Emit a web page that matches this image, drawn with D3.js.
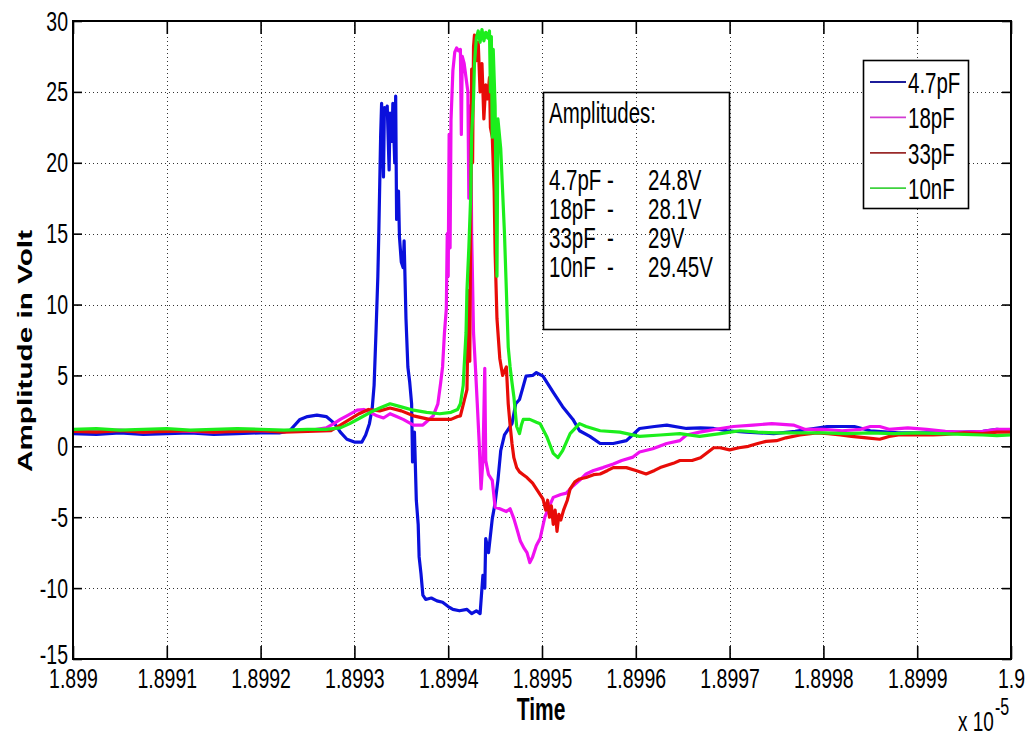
<!DOCTYPE html>
<html><head><meta charset="utf-8">
<script src="https://cdn.jsdelivr.net/npm/d3@7"></script>
<style>body{margin:0;background:#fff}svg{display:block;font-family:"Liberation Sans",Arial,Helvetica,sans-serif}</style>
</head><body><svg id="c" width="1030" height="736"></svg>
<script>
// ---- data ----
// time offsets in units of 1e-4 (x 10^-5 s) from 1.899, i.e. 0..10
const timeTicks = [0,1,2,3,4,5,6,7,8,9,10];
const timeTickLabels = ["1.899","1.8991","1.8992","1.8993","1.8994","1.8995","1.8996","1.8997","1.8998","1.8999","1.9"];
const voltTicks = [-15,-10,-5,0,5,10,15,20,25,30];
const seriesNames = ["4.7pF","18pF","33pF","10nF"];
const seriesColors = ["#0a10dc","#f010f0","#e80c08","#1cee1c"];
const legendColors = ["#1c1c9a","#d23cd2","#9a2a2a","#3ed23e"];
const amplitudeNames = ["4.7pF -","18pF\u00A0\u00A0-","33pF\u00A0\u00A0-","10nF\u00A0\u00A0-"];
const amplitudeValues = ["24.8V","28.1V","29V","29.45V"];

const cap4p7pF = [[0,0.9],[0.25,0.85],[0.5,0.95],[0.75,0.85],[1,0.9],[1.25,0.95],[1.5,0.85],[1.75,0.9],[2,0.95],[2.2,0.95],[2.31,1.1],[2.42,1.9],[2.5,2.1],[2.6,2.2],[2.7,2.1],[2.79,1.6],[2.85,1.0],[2.92,0.5],[3.0,0.3],[3.08,0.3],[3.12,0.8],[3.16,1.6],[3.19,2.7],[3.21,4.3],[3.23,8.0],[3.25,12.0],[3.26,15.0],[3.28,22.0],[3.29,24.2],[3.31,19.0],[3.32,23.9],[3.34,23.5],[3.35,24.0],[3.37,19.5],[3.38,23.5],[3.40,21.5],[3.41,24.2],[3.43,20.0],[3.44,24.7],[3.45,16.0],[3.47,18.0],[3.48,14.8],[3.50,13.0],[3.52,12.6],[3.53,14.5],[3.55,9.0],[3.57,5.6],[3.59,4.5],[3.61,3.0],[3.62,-1.1],[3.64,1.0],[3.66,-3.8],[3.68,-5.5],[3.69,-7.8],[3.71,-9.0],[3.73,-10.5],[3.76,-10.8],[3.82,-10.7],[3.88,-10.9],[3.94,-11.0],[4.0,-11.3],[4.05,-11.5],[4.12,-11.6],[4.20,-11.5],[4.25,-11.8],[4.30,-11.6],[4.34,-11.8],[4.37,-9.1],[4.39,-10.0],[4.40,-6.5],[4.43,-7.5],[4.47,-5.1],[4.50,-4.0],[4.53,-2.4],[4.56,-0.3],[4.60,0.8],[4.65,1.3],[4.68,1.6],[4.72,3.0],[4.76,3.3],[4.79,4.0],[4.83,4.95],[4.90,5.0],[4.94,5.2],[5.01,4.95],[5.12,3.8],[5.22,2.8],[5.33,1.9],[5.40,1.1],[5.51,0.7],[5.62,0.2],[5.76,0.2],[5.90,0.4],[6.04,1.26],[6.2,1.4],[6.33,1.5],[6.54,1.26],[6.69,1.3],[6.83,1.26],[6.97,1.1],[7.18,1.0],[7.47,0.9],[7.7,1.05],[8.04,1.4],[8.33,1.4],[8.5,1.1],[8.8,0.95],[9.2,0.95],[9.5,1.0],[9.7,1.05],[9.85,1.2],[10,1.1]];

const cap18pF = [[0,1.1],[0.25,1.05],[0.5,1.15],[0.75,1.0],[1,1.1],[1.25,1.05],[1.5,1.0],[1.75,1.1],[2,1.1],[2.25,1.05],[2.5,1.1],[2.7,1.3],[2.78,1.6],[2.85,1.9],[2.92,2.15],[3.03,2.55],[3.1,2.6],[3.17,2.4],[3.24,2.15],[3.31,2.0],[3.38,2.3],[3.45,2.1],[3.52,1.9],[3.63,1.5],[3.73,1.5],[3.84,2.15],[3.89,3.0],[3.92,4.5],[3.94,5.6],[3.96,8.0],[3.98,9.7],[3.99,15],[4.00,12],[4.01,22],[4.02,14],[4.03,23],[4.05,26.5],[4.07,27.8],[4.09,28.1],[4.11,27.9],[4.13,28.0],[4.14,22],[4.15,27.5],[4.17,27.0],[4.19,26.0],[4.21,25.0],[4.22,17.5],[4.23,24.0],[4.24,23.0],[4.25,15.0],[4.27,8.0],[4.29,5.6],[4.31,3.0],[4.33,0.3],[4.35,-3.0],[4.37,-1.0],[4.39,5.5],[4.40,-1.0],[4.43,-2.0],[4.47,-2.4],[4.50,-4.3],[4.55,-4.4],[4.62,-4.6],[4.66,-4.4],[4.70,-5.1],[4.74,-6.0],[4.77,-6.7],[4.81,-7.2],[4.84,-7.5],[4.87,-8.2],[4.90,-7.8],[4.94,-7.0],[4.98,-6.5],[5.03,-5.0],[5.08,-4.2],[5.12,-3.6],[5.2,-3.4],[5.26,-3.3],[5.33,-2.8],[5.40,-2.4],[5.47,-1.95],[5.55,-1.7],[5.65,-1.5],[5.76,-1.24],[5.85,-1.0],[5.97,-0.76],[6.04,-0.4],[6.18,-0.17],[6.33,0.2],[6.47,0.4],[6.54,0.8],[6.68,1.0],[6.85,1.2],[7.04,1.4],[7.25,1.5],[7.45,1.6],[7.68,1.5],[7.8,1.2],[8.0,1.2],[8.2,1.1],[8.4,1.2],[8.5,1.4],[8.6,1.4],[8.7,1.2],[8.9,1.3],[9.1,1.2],[9.3,1.05],[9.5,1.0],[9.7,1.05],[9.85,1.2],[10,1.2]];

const cap33pF = [[0,1.05],[0.25,1.0],[0.5,1.1],[0.75,1.0],[1,1.05],[1.25,1.1],[1.5,1.0],[1.75,1.05],[2,1.1],[2.25,1.0],[2.5,1.05],[2.75,1.1],[2.85,1.5],[2.95,1.9],[3.05,2.3],[3.15,2.6],[3.27,2.5],[3.38,2.7],[3.5,2.5],[3.63,2.15],[3.8,1.9],[3.91,1.9],[4.03,1.9],[4.10,2.1],[4.13,2.15],[4.17,3.2],[4.20,4.0],[4.21,8.0],[4.22,11.0],[4.23,6.0],[4.24,16.4],[4.25,26.6],[4.26,20],[4.27,28.2],[4.28,29.0],[4.30,27.2],[4.32,28.5],[4.34,25.0],[4.36,27.0],[4.38,23.1],[4.40,25.5],[4.42,24.5],[4.44,26.0],[4.45,22.5],[4.47,21.8],[4.49,18],[4.50,13.7],[4.52,9.0],[4.55,6.2],[4.58,5.0],[4.62,5.6],[4.64,3.0],[4.66,1.5],[4.68,0.2],[4.70,-0.8],[4.73,-1.5],[4.76,-1.8],[4.80,-2.0],[4.84,-2.2],[4.87,-2.4],[4.90,-2.6],[4.94,-3.0],[4.98,-3.4],[5.01,-3.7],[5.04,-4.5],[5.06,-3.8],[5.08,-5.0],[5.10,-4.2],[5.12,-5.5],[5.14,-4.5],[5.16,-6.0],[5.18,-4.8],[5.2,-5.2],[5.23,-4.5],[5.27,-3.8],[5.3,-3.0],[5.35,-2.5],[5.4,-2.3],[5.47,-2.2],[5.55,-2.0],[5.62,-1.95],[5.7,-1.7],[5.76,-1.5],[5.9,-1.5],[6.0,-1.7],[6.11,-1.95],[6.2,-1.7],[6.26,-1.5],[6.4,-1.2],[6.47,-1.0],[6.6,-1.0],[6.69,-0.8],[6.75,-0.5],[6.83,-0.1],[6.9,-0.1],[7.0,-0.25],[7.1,-0.1],[7.2,0],[7.3,0.2],[7.39,0.35],[7.5,0.4],[7.6,0.6],[7.75,0.8],[7.93,0.95],[8.05,0.9],[8.18,0.8],[8.3,0.7],[8.46,0.6],[8.6,0.5],[8.7,0.7],[8.8,0.8],[9.0,0.8],[9.17,0.8],[9.3,0.85],[9.5,0.95],[9.7,0.9],[9.85,1.0],[10,1.0]];

const cap10nF = [[0,1.2],[0.25,1.25],[0.5,1.15],[0.75,1.2],[1,1.25],[1.25,1.15],[1.5,1.2],[1.75,1.25],[2,1.2],[2.25,1.15],[2.5,1.2],[2.7,1.2],[2.85,1.3],[2.95,1.6],[3.06,2.0],[3.17,2.4],[3.27,2.7],[3.38,3.0],[3.49,2.8],[3.63,2.55],[3.77,2.4],[3.91,2.3],[4.03,2.4],[4.10,2.6],[4.13,3.0],[4.16,4.3],[4.17,5.6],[4.19,8],[4.20,11.0],[4.22,14],[4.24,17.7],[4.25,22],[4.27,24.5],[4.28,27],[4.30,28.8],[4.32,29.3],[4.34,28.5],[4.36,29.4],[4.38,28.6],[4.40,29.2],[4.42,28.8],[4.44,29.3],[4.45,25],[4.46,28.9],[4.47,21.8],[4.48,28.0],[4.50,24.0],[4.52,12],[4.53,23.1],[4.56,21],[4.58,18],[4.60,15],[4.62,11.0],[4.64,7],[4.66,5.6],[4.68,4.5],[4.70,3.5],[4.73,1.4],[4.76,0.9],[4.78,1.5],[4.80,1.9],[4.87,1.9],[4.94,1.7],[4.98,1.6],[5.05,0.7],[5.12,-0.5],[5.17,-0.8],[5.22,-0.3],[5.3,0.9],[5.4,1.6],[5.47,1.4],[5.62,1.1],[5.83,1.0],[6.04,0.7],[6.26,0.8],[6.47,0.9],[6.68,0.7],[6.9,0.9],[7.11,1.1],[7.3,1.0],[7.5,0.95],[7.75,0.95],[8.0,0.95],[8.25,0.9],[8.5,0.95],[8.75,0.9],[9.0,0.95],[9.25,0.9],[9.5,0.85],[9.7,0.8],[9.85,0.75],[10,0.8]];

const allSeries = [cap4p7pF, cap18pF, cap33pF, cap10nF];

// ---- layout ----
const M = {l:73, r:1011, t:21, b:659};
const ST = 1.45; // vertical text stretch of the original figure
const x = d3.scaleLinear().domain([0,10]).range([M.l, M.r]);
const y = d3.scaleLinear().domain([-15,30]).range([M.b, M.t]);
const svg = d3.select("#c");

// grid
const grid = svg.append("g").attr("stroke","#333").attr("stroke-width",1).attr("stroke-dasharray","1,3");
grid.selectAll("line.v").data(timeTicks.slice(1,-1)).join("line").attr("class","v")
  .attr("x1",d=>Math.round(x(d))+0.5).attr("x2",d=>Math.round(x(d))+0.5).attr("y1",M.t).attr("y2",M.b);
grid.selectAll("line.h").data(voltTicks.slice(1,-1)).join("line").attr("class","h")
  .attr("y1",d=>Math.round(y(d))+0.5).attr("y2",d=>Math.round(y(d))+0.5).attr("x1",M.l).attr("x2",M.r);

// series
svg.append("clipPath").attr("id","pc").append("rect")
  .attr("x",M.l).attr("y",M.t).attr("width",M.r-M.l).attr("height",M.b-M.t);
const line = d3.line().x(d=>x(d[0])).y(d=>y(d[1]));
svg.append("g").attr("clip-path","url(#pc)").selectAll("path").data(allSeries).join("path")
  .attr("d",line).attr("fill","none").attr("stroke",(d,i)=>seriesColors[i])
  .attr("stroke-width",3.2).attr("stroke-linejoin","round");

// axes
function styleAxis(g){
  g.select(".domain").remove();
  g.selectAll(".tick line").attr("stroke","#000").attr("stroke-width",1.6);
  g.selectAll(".tick text").attr("fill","#000").attr("font-size",19.5)
    .attr("font-family","'Liberation Sans',Arial,sans-serif")
    .attr("transform",`scale(1,${ST})`);
}
svg.append("g").attr("transform",`translate(0,${M.b})`)
  .call(d3.axisBottom(x).tickValues(timeTicks).tickFormat((d,i)=>timeTickLabels[i]).tickSizeInner(-13).tickSizeOuter(0).tickPadding(6))
  .call(styleAxis);
const gy = svg.append("g").attr("transform",`translate(${M.l},0)`)
  .call(d3.axisLeft(y).tickValues(voltTicks).tickFormat(d=>String(d)).tickSizeInner(-9).tickSizeOuter(0).tickPadding(5))
  .call(styleAxis);
// lowest label sits slightly raised above the x tick labels, as in the original
gy.selectAll(".tick").filter(d=>d===voltTicks[0]).select("text")
  .attr("transform",`translate(0,-5) scale(1,${ST})`);
svg.append("g").attr("transform",`translate(0,${M.t})`)
  .call(d3.axisTop(x).tickValues(timeTicks).tickFormat("").tickSizeInner(-13).tickSizeOuter(0))
  .call(styleAxis);
svg.append("g").attr("transform",`translate(${M.r},0)`)
  .call(d3.axisRight(y).tickValues(voltTicks).tickFormat("").tickSizeInner(-9).tickSizeOuter(0))
  .call(styleAxis);

// plot box
svg.append("rect").attr("x",M.l).attr("y",M.t).attr("width",M.r-M.l).attr("height",M.b-M.t)
  .attr("fill","none").attr("stroke","#000").attr("stroke-width",2);

// axis labels
svg.append("text").attr("transform",`translate(541,720) scale(1,${ST})`)
  .attr("text-anchor","middle").attr("font-weight","bold").attr("font-size",21).text("Time");
svg.append("text").attr("transform",`translate(32,351) rotate(-90) scale(${ST},1)`)
  .attr("text-anchor","middle").attr("font-weight","bold").attr("font-size",20.5).text("Amplitude in Volt");
svg.append("text").attr("transform",`translate(958,731) scale(1,${ST})`)
  .attr("font-size",19).text("x 10");
svg.append("text").attr("transform",`translate(995,715) scale(1,${ST})`)
  .attr("font-size",16).text("-5");

// amplitude text box
svg.append("rect").attr("x",543.5).attr("y",92.5).attr("width",186).attr("height",237)
  .attr("fill","none").attr("stroke","#000").attr("stroke-width",1.6);
svg.append("text").attr("transform",`translate(549,123) scale(1,${ST})`).attr("font-size",20.5).text("Amplitudes:");
const ab = svg.append("g").attr("font-size",20.5);
amplitudeNames.forEach((n,i)=>{
  const by = 190 + i*29;
  ab.append("text").attr("transform",`translate(549,${by}) scale(1,${ST})`).text(n);
  ab.append("text").attr("transform",`translate(648,${by}) scale(1,${ST})`).text(amplitudeValues[i]);
});

// legend
const lg = svg.append("g");
lg.append("rect").attr("x",863.5).attr("y",60.5).attr("width",105).attr("height",148)
  .attr("fill","#fff").attr("stroke","#000").attr("stroke-width",1.6);
seriesNames.forEach((n,i)=>{
  const cy = 82 + i*35.4;
  lg.append("line").attr("x1",870).attr("x2",906).attr("y1",cy).attr("y2",cy)
    .attr("stroke",legendColors[i]).attr("stroke-width",1.8);
  lg.append("text").attr("transform",`translate(908,${cy}) scale(1,${ST})`)
    .attr("dy","0.36em").attr("font-size",20.5).text(n);
});
</script></body></html>
